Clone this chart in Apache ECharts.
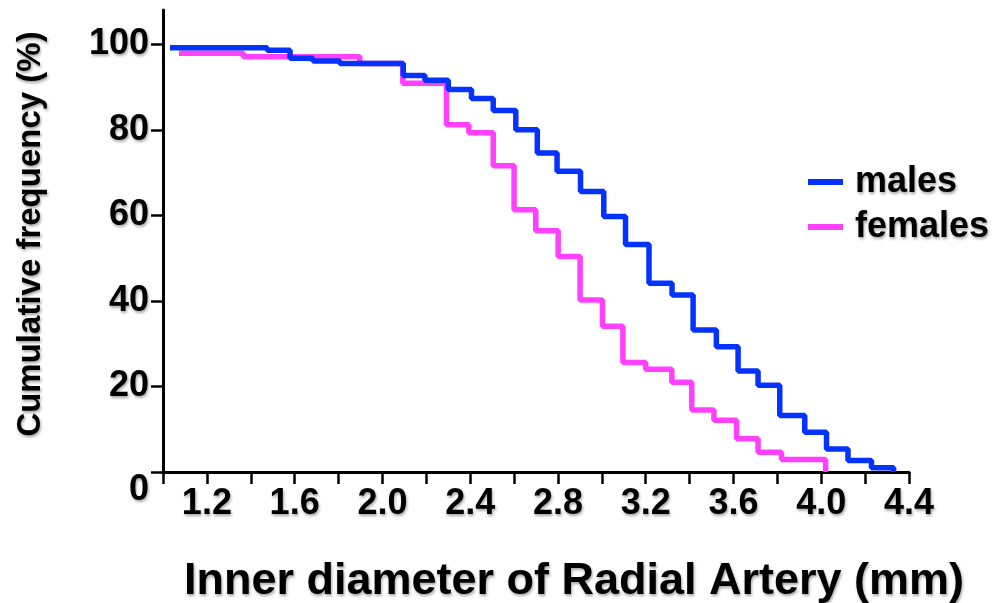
<!DOCTYPE html>
<html>
<head>
<meta charset="utf-8">
<title>Inner diameter of Radial Artery</title>
<script src="https://cdn.jsdelivr.net/npm/echarts@6/dist/echarts.min.js"></script>
<style>
  html, body { margin: 0; padding: 0; background: #fff; }
  #chart { width: 998px; height: 603px; }
</style>
</head>
<body>
<div id="chart"></div>
<script>
// step start positions (mm) and cumulative frequency (%)
const malesX = [1.032, 1.475, 1.579, 1.683, 1.806, 2.095, 2.194, 2.300, 2.406, 2.505, 2.608, 2.706, 2.796, 2.903,
  3.009, 3.108, 3.215, 3.320, 3.416, 3.522, 3.621, 3.712, 3.811, 3.925, 4.024, 4.122, 4.229, 4.330];
const malesY = [99.2, 98.6, 96.7, 96.1, 95.5, 92.7, 91.6, 89.4, 87.3, 84.5, 80.0, 74.6, 70.3, 65.6,
  59.7, 53.2, 44.1, 41.4, 33.2, 29.3, 23.6, 20.3, 13.2, 9.3, 5.4, 2.7, 1.0, 0];
const femalesX = [1.073, 1.366, 1.897, 2.093, 2.292, 2.394, 2.505, 2.600, 2.699, 2.801, 2.901, 3.003, 3.096,
  3.200, 3.319, 3.410, 3.511, 3.614, 3.712, 3.819, 4.020];
const femalesY = [97.9, 97.1, 95.5, 90.9, 81.2, 79.3, 71.6, 61.3, 56.4, 50.4, 40.2, 34.1, 25.6,
  24.0, 21.0, 14.5, 12.1, 7.8, 4.6, 2.9, 0];
const yTicks = [0, 20, 40, 60, 80, 100];

const FONT = "'Liberation Sans', Arial, Helvetica, sans-serif";
const shadow = { textShadowColor: "rgba(0,0,0,0.35)", textShadowBlur: 3, textShadowOffsetX: 1, textShadowOffsetY: 2 };
const pairs = (xs, ys) => xs.map((x, i) => [x, ys[i]]);

const chart = echarts.init(document.getElementById("chart"), null, { renderer: "canvas" });
chart.setOption({
  animation: false,
  backgroundColor: "#fff",
  grid: { left: 163, right: 89, top: 10, bottom: 131, outerBoundsMode: "none" },
  legend: {
    orient: "vertical",
    left: 803,
    top: 159,
    icon: "rect",
    itemWidth: 35,
    itemHeight: 6,
    itemGap: 9,
    data: ["males", "females"],
    textStyle: { fontFamily: FONT, fontWeight: "bold", fontSize: 36, lineHeight: 36, color: "#000", padding: [0, 0, 0, 7], ...shadow },
  },
  xAxis: {
    type: "value",
    min: 1.0,
    max: 4.4,
    interval: 0.2,
    name: "Inner diameter of Radial Artery (mm)",
    nameLocation: "middle",
    nameGap: 87,
    nameTextStyle: { fontFamily: FONT, fontWeight: "bold", fontSize: 45, color: "#000", padding: [0, 0, 0, 76], ...shadow },
    axisLine: { show: true, lineStyle: { color: "#000", width: 3 } },
    axisTick: { show: true, length: 12, lineStyle: { color: "#000", width: 2.5 } },
    axisLabel: {
      margin: 14,
      fontFamily: FONT, fontWeight: "bold", fontSize: 36, color: "#000", ...shadow,
      formatter: (v) => {
        const k = Math.round(v * 10);
        return k > 10 && k % 4 === 0 ? (k / 10).toFixed(1) : "";
      },
    },
    splitLine: { show: false },
  },
  yAxis: {
    type: "value",
    min: 0,
    max: 108,
    name: "Cumulative frequency (%)",
    nameLocation: "middle",
    nameGap: 116,
    nameTextStyle: { fontFamily: FONT, fontWeight: "bold", fontSize: 33, color: "#000", padding: [0, 0, 0, 14], ...shadow },
    axisLine: { show: true, lineStyle: { color: "#000", width: 3 } },
    axisTick: { show: true, length: 12, customValues: yTicks, lineStyle: { color: "#000", width: 2.5 } },
    axisLabel: {
      margin: 14, customValues: yTicks, verticalAlignMinLabel: "top",
      fontFamily: FONT, fontWeight: "bold", fontSize: 36, color: "#000", ...shadow,
    },
    splitLine: { show: false },
  },
  series: [
    {
      name: "females",
      type: "line",
      step: "end",
      symbol: "none",
      color: "#ff40ff",
      lineStyle: { color: "#ff40ff", width: 5.5 },
      data: pairs(femalesX, femalesY),
    },
    {
      name: "males",
      type: "line",
      step: "end",
      symbol: "none",
      color: "#0433ff",
      lineStyle: { color: "#0433ff", width: 5.5 },
      data: pairs(malesX, malesY),
    },
  ],
});
</script>
</body>
</html>
